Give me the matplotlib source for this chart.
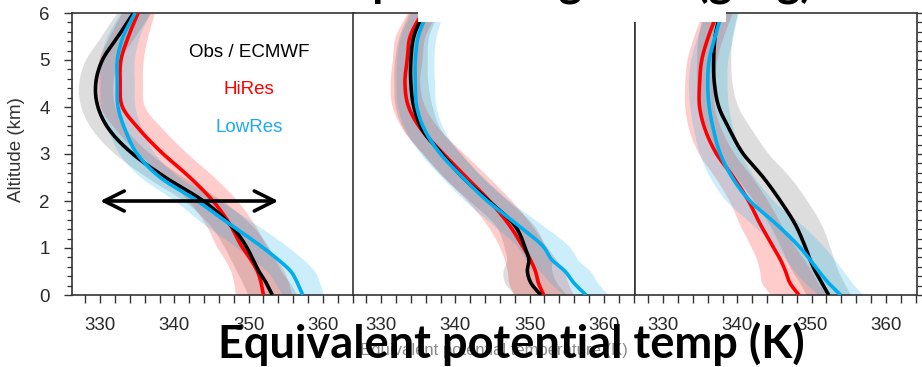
import numpy as np
import matplotlib
matplotlib.use("Agg")
import matplotlib.pyplot as plt
from matplotlib.patches import Rectangle
from matplotlib.ticker import MultipleLocator

# ---------------------------------------------------------------------------
# Mean equivalent potential temperature profiles (K) and their spread
# ---------------------------------------------------------------------------
altitude_km = [0, 0.25, 0.5, 0.75, 1, 1.5, 2, 2.5, 3, 3.5, 4, 4.5, 5, 5.5, 6]

# left panel
p1_obs = [353.2, 352.4, 351.4, 350.6, 349.8, 347.5, 343.9, 338.8, 334.4, 331.3, 329.7, 329.4, 330.3, 332.4, 334.5]
p1_hires = [352.0, 351.7, 351.2, 350.3, 349.2, 347.5, 345.2, 342.1, 338.5, 335.4, 333.0, 332.7, 332.8, 333.8, 335.1]
p1_lowres = [357.3, 356.6, 355.7, 354.0, 352.0, 347.5, 343.1, 338.1, 335.0, 333.4, 332.4, 332.3, 332.3, 333.1, 334.7]
p1_obs_sd = [3.3, 3.2, 3.0, 3.0, 3.0, 2.8, 2.6, 2.5, 2.4, 2.3, 2.3, 2.3, 2.3, 2.3, 2.3]
p1_hires_sd = [3.8, 3.7, 3.6, 3.5, 3.4, 3.3, 3.3, 3.3, 3.3, 3.2, 3.0, 3.0, 3.0, 2.6, 2.2]
p1_lowres_sd = [2.8, 3.0, 3.2, 3.4, 3.5, 3.5, 3.0, 2.6, 2.4, 2.3, 2.3, 2.3, 2.3, 2.2, 2.0]

# middle panel
p2_obs = [351.5, 350.2, 349.7, 349.9, 349.4, 347.9, 344.5, 341.0, 338.2, 335.6, 334.4, 334.0, 334.0, 334.4, 335.7]
p2_hires = [351.9, 351.2, 350.8, 350.1, 349.2, 347.2, 344.6, 341.5, 338.4, 335.5, 333.7, 333.2, 333.5, 333.9, 335.5]
p2_lowres = [357.6, 356.0, 354.8, 353.0, 352.0, 348.3, 344.3, 341.0, 338.0, 335.9, 334.8, 334.6, 334.6, 335.0, 336.2]
p2_obs_sd = [3.5, 3.5, 3.3, 3.0, 2.8, 2.6, 2.6, 2.6, 2.6, 2.5, 2.5, 2.3, 2.2, 2.0, 2.0]
p2_hires_sd = [4.0, 4.0, 3.8, 3.5, 3.2, 3.0, 3.0, 3.0, 2.8, 2.5, 2.2, 2.0, 2.0, 2.0, 2.0]
p2_lowres_sd = [3.0, 3.2, 3.4, 3.5, 3.5, 3.3, 3.0, 2.8, 2.7, 2.6, 2.6, 2.6, 2.5, 2.4, 2.2]

# right panel
p3_obs = [352.3, 351.4, 350.5, 349.8, 349.2, 347.8, 345.8, 343.5, 340.8, 339.0, 337.5, 336.9, 336.8, 337.0, 337.7]
p3_hires = [348.3, 347.1, 346.5, 345.8, 344.9, 343.1, 341.5, 339.5, 337.2, 335.7, 334.9, 334.9, 335.2, 336.1, 337.3]
p3_lowres = [353.9, 352.3, 351.0, 349.8, 348.5, 345.3, 341.7, 339.3, 337.7, 336.8, 336.2, 336.0, 336.2, 337.0, 337.9]
p3_obs_sd = [3.0, 3.0, 3.1, 3.2, 3.3, 3.5, 3.6, 3.6, 3.4, 3.0, 2.6, 2.4, 2.3, 2.3, 2.3]
p3_hires_sd = [3.8, 3.8, 3.5, 3.2, 3.0, 2.8, 2.6, 2.5, 2.4, 2.2, 2.0, 2.0, 2.0, 2.0, 2.0]
p3_lowres_sd = [3.0, 3.2, 3.3, 3.3, 3.3, 3.3, 3.2, 3.0, 2.8, 2.7, 2.6, 2.6, 2.5, 2.4, 2.2]

series_names = ["Obs / ECMWF", "HiRes", "LowRes"]
x_ticks = [330, 340, 350, 360]
y_ticks = [0, 1, 2, 3, 4, 5, 6]
arrow_range = [330, 354]
arrow_altitude = 2

panels = [
    [(p1_obs, p1_obs_sd), (p1_hires, p1_hires_sd), (p1_lowres, p1_lowres_sd)],
    [(p2_obs, p2_obs_sd), (p2_hires, p2_hires_sd), (p2_lowres, p2_lowres_sd)],
    [(p3_obs, p3_obs_sd), (p3_hires, p3_hires_sd), (p3_lowres, p3_lowres_sd)],
]

line_colors = ["black", "#ff0000", "#00aeef"]
band_colors = [("#bdbdbd", 0.5), ("#ff0000", 0.2), ("#00aeef", 0.2)]
line_order = [1, 0, 2]


def smooth_profile(alt, values, n=400):
    """Cubic Hermite curve x(alt) through the given profile values."""
    y = np.asarray(alt, float)
    x = np.asarray(values, float)
    slope = np.gradient(x, y)
    yy = np.linspace(y[0], y[-1], n)
    i = np.clip(np.searchsorted(y, yy, side="right") - 1, 0, len(y) - 2)
    h = y[i + 1] - y[i]
    t = (yy - y[i]) / h
    h00 = 2 * t ** 3 - 3 * t ** 2 + 1
    h10 = t ** 3 - 2 * t ** 2 + t
    h01 = -2 * t ** 3 + 3 * t ** 2
    h11 = t ** 3 - t ** 2
    xx = h00 * x[i] + h10 * h * slope[i] + h01 * x[i + 1] + h11 * h * slope[i + 1]
    return yy, xx


W, H = 922, 367
fig = plt.figure(figsize=(W / 100, H / 100), dpi=100)
plt.rcParams["font.family"] = ["Liberation Sans", "DejaVu Sans"]

lefts = [72, 353, 635]
panel_w, top_px, bottom_px = 282, 13, 295
spine_color = "#333333"
label_color = "#2a2a2a"

axes = []
for k, left in enumerate(lefts):
    ax = fig.add_axes([left / W, 1 - bottom_px / H, panel_w / W, (bottom_px - top_px) / H])
    axes.append(ax)
    for (mean, sd), (bc, ba) in zip(panels[k], band_colors):
        m = np.asarray(mean)
        s = np.asarray(sd)
        yy, lo = smooth_profile(altitude_km, m - s)
        _, hi = smooth_profile(altitude_km, m + s)
        ax.fill_betweenx(yy, lo, hi, color=bc, alpha=ba, lw=0, zorder=1)
    for j in line_order:
        mean, _ = panels[k][j]
        yy, xx = smooth_profile(altitude_km, mean)
        ax.plot(xx, yy, color=line_colors[j], lw=2.6,
                solid_capstyle="butt", zorder=3)

    ax.set_xlim(326.2, 364.2)
    ax.set_ylim(0, 6)
    ax.set_xticks(x_ticks)
    ax.xaxis.set_minor_locator(MultipleLocator(2))
    ax.tick_params(axis="x", which="both", direction="out", length=5.5,
                   width=1.0, color=spine_color, labelsize=13.5,
                   labelcolor=label_color, pad=10)
    for sp in ax.spines.values():
        sp.set_color(spine_color)
        sp.set_linewidth(1.2)
    ax.set_yticks(y_ticks)
    ax.yaxis.set_minor_locator(MultipleLocator(0.2))
    if k == 0:
        ax.tick_params(axis="y", which="major", direction="out", length=6,
                       width=1.0, color=spine_color, labelsize=13.5,
                       labelcolor=label_color, pad=10)
        ax.tick_params(axis="y", which="minor", direction="out", length=3.5,
                       width=0.9, color=spine_color)
    elif k == 2:
        ax.yaxis.tick_right()
        ax.tick_params(axis="y", which="major", direction="out", length=6,
                       width=1.0, color=spine_color, labelright=False)
        ax.tick_params(axis="y", which="minor", direction="out", length=3.5,
                       width=0.9, color=spine_color)
    else:
        ax.tick_params(axis="y", which="both", left=False, labelleft=False)

# legend written inside the first panel
ax0 = axes[0]
for name, c, yl in zip(series_names, ["black", "#ff0000", "#1eaaf0"], [5.17, 4.38, 3.57]):
    ax0.text(350.1, yl, name, color=c, ha="center", va="center", fontsize=13.5, zorder=4)

ax0.annotate("", xy=(arrow_range[0], arrow_altitude), xytext=(arrow_range[1], arrow_altitude),
             arrowprops=dict(arrowstyle="<->,head_length=0.4,head_width=0.2",
                             lw=2.6, color="black", mutation_scale=36,
                             shrinkA=0, shrinkB=0), zorder=5)

fig.text(17 / W, 1 - 150 / H, "Altitude (km)", rotation=90, ha="center", va="center",
         fontsize=13.5, color="#333333")

# white strip over the top frame and the title above it
fig.add_artist(Rectangle((418 / W, 1 - 22 / H), (726 - 418) / W, 22 / H,
                         transform=fig.transFigure, facecolor="white",
                         edgecolor="none", zorder=5))
fig.text(812 / W, 1 + 2 / H, "Water vapor mixing ratio (g/kg)", ha="right", va="baseline",
         fontsize=32, fontweight="bold", family=["Lato", "DejaVu Sans"], zorder=6)

fig.text(494 / W, 1 - 350 / H, "Equivalent potential temperature (K)", ha="center",
         va="center", fontsize=12, color="#8a8a8a", zorder=6)
fig.text(511 / W, 1 - 358 / H, "Equivalent potential temp (K)", ha="center", va="baseline",
         fontsize=32.5, fontweight="bold", family=["Lato", "DejaVu Sans"], zorder=7)

fig.savefig("out.png", dpi=100)
